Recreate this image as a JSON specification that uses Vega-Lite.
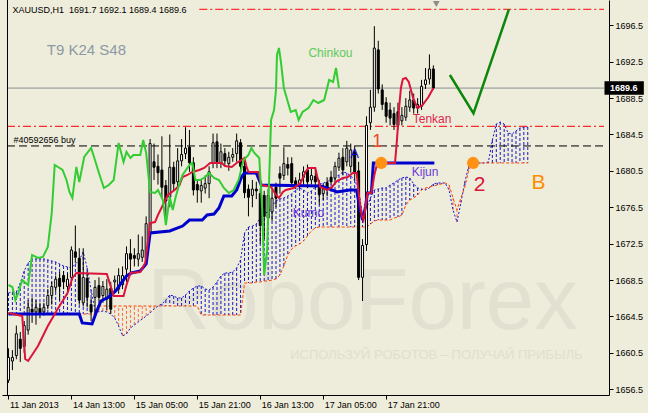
{
"$schema":"https://vega.github.io/schema/vega-lite/v6.json",
"width":607,"height":395,
"autosize":{"type":"none"},
"padding":{"left":2,"top":0,"right":39,"bottom":18},
"background":"#EEECDA",
"view":{"stroke":null},
"config":{"font":"Liberation Sans"},
"datasets":{
"candles":[
{"i":0,"o":1657.5,"h":1661.0,"l":1657.2,"c":1660.0},
{"i":1,"o":1659.6,"h":1660.8,"l":1658.6,"c":1660.0},
{"i":2,"o":1660.2,"h":1663.5,"l":1659.8,"c":1662.6},
{"i":3,"o":1662.0,"h":1662.8,"l":1659.5,"c":1661.0},
{"i":4,"o":1661.2,"h":1664.0,"l":1660.5,"c":1663.5},
{"i":5,"o":1663.0,"h":1666.3,"l":1662.5,"c":1665.5},
{"i":6,"o":1665.3,"h":1666.6,"l":1663.8,"c":1665.0},
{"i":7,"o":1665.0,"h":1666.3,"l":1663.6,"c":1665.5},
{"i":8,"o":1665.4,"h":1666.0,"l":1664.3,"c":1664.9},
{"i":9,"o":1665.0,"h":1666.0,"l":1664.6,"c":1665.5},
{"i":10,"o":1665.7,"h":1667.5,"l":1665.3,"c":1666.8},
{"i":11,"o":1666.8,"h":1668.3,"l":1665.8,"c":1667.8},
{"i":12,"o":1667.7,"h":1669.0,"l":1667.2,"c":1668.6},
{"i":13,"o":1668.7,"h":1669.4,"l":1666.3,"c":1667.8},
{"i":14,"o":1669.0,"h":1669.5,"l":1667.5,"c":1668.3},
{"i":15,"o":1667.8,"h":1669.2,"l":1667.3,"c":1668.6},
{"i":16,"o":1668.8,"h":1672.2,"l":1668.3,"c":1671.8},
{"i":17,"o":1671.6,"h":1674.5,"l":1670.4,"c":1671.0},
{"i":18,"o":1670.9,"h":1672.0,"l":1665.8,"c":1666.3},
{"i":19,"o":1666.0,"h":1672.0,"l":1665.6,"c":1668.8},
{"i":20,"o":1668.7,"h":1669.5,"l":1665.5,"c":1666.6},
{"i":21,"o":1665.8,"h":1666.5,"l":1664.0,"c":1665.0},
{"i":22,"o":1666.6,"h":1668.5,"l":1664.8,"c":1667.7},
{"i":23,"o":1667.9,"h":1668.8,"l":1666.0,"c":1666.6},
{"i":24,"o":1666.8,"h":1668.4,"l":1666.0,"c":1667.8},
{"i":25,"o":1666.4,"h":1668.6,"l":1665.2,"c":1667.5},
{"i":26,"o":1667.6,"h":1668.3,"l":1664.8,"c":1665.3},
{"i":27,"o":1668.3,"h":1669.0,"l":1667.2,"c":1668.5},
{"i":28,"o":1667.5,"h":1669.8,"l":1667.0,"c":1669.0},
{"i":29,"o":1668.0,"h":1670.0,"l":1667.5,"c":1669.0},
{"i":30,"o":1669.7,"h":1672.2,"l":1668.3,"c":1671.4},
{"i":31,"o":1671.4,"h":1673.0,"l":1669.0,"c":1670.8},
{"i":32,"o":1671.2,"h":1672.0,"l":1670.0,"c":1670.9},
{"i":33,"o":1670.8,"h":1673.5,"l":1670.0,"c":1671.4},
{"i":34,"o":1671.0,"h":1673.3,"l":1670.5,"c":1671.8},
{"i":35,"o":1670.9,"h":1675.5,"l":1670.5,"c":1674.7},
{"i":36,"o":1673.6,"h":1684.0,"l":1673.2,"c":1683.5},
{"i":37,"o":1681.5,"h":1683.5,"l":1679.5,"c":1680.9},
{"i":38,"o":1681.0,"h":1682.3,"l":1679.0,"c":1680.3},
{"i":39,"o":1680.6,"h":1684.3,"l":1677.5,"c":1678.7},
{"i":40,"o":1678.9,"h":1679.5,"l":1675.5,"c":1677.2},
{"i":41,"o":1677.6,"h":1684.5,"l":1676.5,"c":1680.9},
{"i":42,"o":1680.9,"h":1681.5,"l":1678.3,"c":1679.1},
{"i":43,"o":1679.3,"h":1683.0,"l":1678.8,"c":1681.6},
{"i":44,"o":1681.6,"h":1684.0,"l":1681.0,"c":1682.3},
{"i":45,"o":1682.4,"h":1685.3,"l":1681.8,"c":1683.0},
{"i":46,"o":1683.1,"h":1685.0,"l":1680.4,"c":1681.4},
{"i":47,"o":1681.4,"h":1682.0,"l":1677.8,"c":1678.4},
{"i":48,"o":1679.0,"h":1679.6,"l":1677.0,"c":1678.4},
{"i":49,"o":1678.3,"h":1679.6,"l":1677.0,"c":1678.9},
{"i":50,"o":1678.6,"h":1680.0,"l":1678.0,"c":1679.1},
{"i":51,"o":1679.1,"h":1681.0,"l":1677.5,"c":1680.4},
{"i":52,"o":1681.4,"h":1684.6,"l":1680.8,"c":1683.6},
{"i":53,"o":1683.7,"h":1684.6,"l":1680.8,"c":1681.5},
{"i":54,"o":1681.4,"h":1683.5,"l":1680.8,"c":1682.6},
{"i":55,"o":1682.4,"h":1683.0,"l":1681.0,"c":1681.6},
{"i":56,"o":1681.3,"h":1682.6,"l":1680.5,"c":1682.0},
{"i":57,"o":1682.0,"h":1683.0,"l":1681.5,"c":1682.3},
{"i":58,"o":1682.4,"h":1684.6,"l":1681.5,"c":1683.8},
{"i":59,"o":1683.6,"h":1684.0,"l":1680.0,"c":1681.0},
{"i":60,"o":1681.0,"h":1681.8,"l":1677.5,"c":1678.1},
{"i":61,"o":1678.5,"h":1679.0,"l":1675.5,"c":1677.6},
{"i":62,"o":1677.8,"h":1679.5,"l":1676.5,"c":1678.5},
{"i":63,"o":1678.5,"h":1679.3,"l":1677.4,"c":1678.3},
{"i":64,"o":1678.0,"h":1678.6,"l":1672.5,"c":1674.5},
{"i":65,"o":1677.8,"h":1678.3,"l":1673.0,"c":1675.5},
{"i":66,"o":1675.3,"h":1678.5,"l":1674.8,"c":1677.8},
{"i":67,"o":1676.0,"h":1678.5,"l":1675.0,"c":1677.5},
{"i":68,"o":1678.7,"h":1679.2,"l":1676.5,"c":1677.5},
{"i":69,"o":1680.2,"h":1681.0,"l":1678.0,"c":1679.7},
{"i":70,"o":1680.0,"h":1683.1,"l":1679.5,"c":1681.3},
{"i":71,"o":1681.2,"h":1682.0,"l":1680.0,"c":1680.8},
{"i":72,"o":1681.3,"h":1682.0,"l":1679.0,"c":1679.2},
{"i":73,"o":1679.4,"h":1679.8,"l":1678.5,"c":1679.0},
{"i":74,"o":1679.0,"h":1680.3,"l":1678.6,"c":1679.5},
{"i":75,"o":1679.8,"h":1681.0,"l":1679.0,"c":1680.4},
{"i":76,"o":1680.6,"h":1681.2,"l":1678.6,"c":1679.3},
{"i":77,"o":1679.5,"h":1680.8,"l":1679.0,"c":1680.0},
{"i":78,"o":1679.9,"h":1680.8,"l":1678.6,"c":1679.3},
{"i":79,"o":1679.0,"h":1679.5,"l":1676.8,"c":1677.9},
{"i":80,"o":1678.0,"h":1679.0,"l":1677.3,"c":1678.5},
{"i":81,"o":1679.2,"h":1679.8,"l":1677.7,"c":1678.4},
{"i":82,"o":1679.8,"h":1680.5,"l":1679.0,"c":1679.3},
{"i":83,"o":1679.7,"h":1681.5,"l":1679.2,"c":1681.0},
{"i":84,"o":1680.9,"h":1682.5,"l":1680.5,"c":1681.9},
{"i":85,"o":1682.0,"h":1683.0,"l":1680.0,"c":1680.6},
{"i":86,"o":1681.5,"h":1683.8,"l":1681.0,"c":1683.0},
{"i":87,"o":1681.0,"h":1683.5,"l":1680.3,"c":1682.8},
{"i":88,"o":1682.6,"h":1683.3,"l":1679.5,"c":1680.3},
{"i":89,"o":1680.5,"h":1681.5,"l":1668.5,"c":1668.8},
{"i":90,"o":1668.8,"h":1673.0,"l":1666.2,"c":1672.3},
{"i":91,"o":1672.4,"h":1686.5,"l":1671.7,"c":1685.5},
{"i":92,"o":1685.8,"h":1689.4,"l":1685.0,"c":1687.5},
{"i":93,"o":1687.5,"h":1696.4,"l":1687.0,"c":1694.0},
{"i":94,"o":1693.8,"h":1694.8,"l":1689.0,"c":1689.5},
{"i":95,"o":1689.4,"h":1690.0,"l":1687.2,"c":1687.8},
{"i":96,"o":1688.0,"h":1688.6,"l":1685.8,"c":1686.5},
{"i":97,"o":1687.2,"h":1688.0,"l":1685.5,"c":1686.3},
{"i":98,"o":1686.8,"h":1687.5,"l":1685.0,"c":1685.6},
{"i":99,"o":1687.0,"h":1688.0,"l":1685.0,"c":1685.5},
{"i":100,"o":1686.0,"h":1687.5,"l":1685.5,"c":1686.6},
{"i":101,"o":1686.4,"h":1688.5,"l":1686.0,"c":1687.6},
{"i":102,"o":1687.5,"h":1689.3,"l":1687.0,"c":1688.3},
{"i":103,"o":1688.3,"h":1689.0,"l":1686.8,"c":1687.4},
{"i":104,"o":1687.4,"h":1688.5,"l":1686.8,"c":1687.8},
{"i":105,"o":1687.6,"h":1690.5,"l":1687.2,"c":1689.8},
{"i":106,"o":1690.0,"h":1691.8,"l":1689.5,"c":1690.5},
{"i":107,"o":1690.6,"h":1693.3,"l":1690.0,"c":1691.7},
{"i":108,"o":1691.7,"h":1692.1,"l":1689.4,"c":1689.6}
],
"ichi":[
{"i":0,"a":1667.08,"b":1664.77},{"i":1,"a":1667.19,"b":1664.77},{"i":2,"a":1667.19,"b":1664.77},{"i":3,"a":1668.18,"b":1664.77},
{"i":4,"a":1669.5,"b":1664.77},{"i":5,"a":1670.38,"b":1664.77},{"i":6,"a":1670.82,"b":1664.77},{"i":7,"a":1670.82,"b":1664.77},
{"i":8,"a":1670.82,"b":1664.77},{"i":9,"a":1670.82,"b":1664.77},{"i":10,"a":1670.71,"b":1664.77},{"i":11,"a":1670.6,"b":1664.77},
{"i":12,"a":1670.49,"b":1664.77},{"i":13,"a":1670.27,"b":1664.77},{"i":14,"a":1670.05,"b":1664.77},{"i":15,"a":1669.94,"b":1664.77},
{"i":16,"a":1669.83,"b":1664.77},{"i":17,"a":1670.27,"b":1664.77},{"i":18,"a":1670.71,"b":1664.77},{"i":19,"a":1671.59,"b":1664.77},
{"i":20,"a":1669.83,"b":1664.77},{"i":21,"a":1667.41,"b":1664.77},{"i":22,"a":1665.21,"b":1664.77},{"i":23,"a":1664.99,"b":1665.65},
{"i":24,"a":1665.1,"b":1665.65},{"i":25,"a":1664.99,"b":1665.65},{"i":26,"a":1664.77,"b":1665.65},{"i":27,"a":1664.33,"b":1665.65},
{"i":28,"a":1663.46,"b":1665.65},{"i":29,"a":1662.36,"b":1665.65},{"i":30,"a":1662.58,"b":1665.65},{"i":31,"a":1663.24,"b":1665.65},
{"i":32,"a":1663.57,"b":1665.65},{"i":33,"a":1663.9,"b":1665.65},{"i":34,"a":1664.22,"b":1665.65},{"i":35,"a":1664.55,"b":1665.65},
{"i":36,"a":1664.88,"b":1665.65},{"i":37,"a":1665.32,"b":1665.65},{"i":38,"a":1665.65,"b":1665.65},{"i":39,"a":1665.87,"b":1665.65},
{"i":40,"a":1666.31,"b":1665.65},{"i":41,"a":1666.86,"b":1665.65},{"i":42,"a":1666.75,"b":1665.65},{"i":43,"a":1666.53,"b":1665.65},
{"i":44,"a":1666.53,"b":1665.65},{"i":45,"a":1666.86,"b":1665.65},{"i":46,"a":1667.3,"b":1665.65},{"i":47,"a":1667.63,"b":1665.65},
{"i":48,"a":1667.85,"b":1665.65},{"i":49,"a":1667.85,"b":1664.66},{"i":50,"a":1667.52,"b":1664.66},{"i":51,"a":1667.41,"b":1664.66},
{"i":52,"a":1667.74,"b":1664.66},{"i":53,"a":1668.29,"b":1664.66},{"i":54,"a":1668.95,"b":1664.66},{"i":55,"a":1669.28,"b":1664.66},
{"i":56,"a":1669.28,"b":1664.66},{"i":57,"a":1669.39,"b":1664.66},{"i":58,"a":1669.83,"b":1664.66},{"i":59,"a":1670.71,"b":1664.66},
{"i":60,"a":1673.68,"b":1668.18},{"i":61,"a":1674.33,"b":1668.18},{"i":62,"a":1674.44,"b":1668.18},{"i":63,"a":1674.66,"b":1668.29},
{"i":64,"a":1675.32,"b":1668.29},{"i":65,"a":1675.87,"b":1668.4},{"i":66,"a":1675.98,"b":1668.4},{"i":67,"a":1676.64,"b":1668.51},
{"i":68,"a":1677.19,"b":1668.62},{"i":69,"a":1677.41,"b":1669.06},{"i":70,"a":1677.52,"b":1670.05},{"i":71,"a":1677.74,"b":1671.26},
{"i":72,"a":1677.96,"b":1671.92},{"i":73,"a":1678.4,"b":1672.25},{"i":74,"a":1678.62,"b":1672.47},{"i":75,"a":1678.4,"b":1672.8},
{"i":76,"a":1678.07,"b":1673.35},{"i":77,"a":1678.29,"b":1673.9},{"i":78,"a":1678.73,"b":1674.23},{"i":79,"a":1679.06,"b":1674.33},
{"i":80,"a":1679.17,"b":1674.33},{"i":81,"a":1679.28,"b":1674.33},{"i":82,"a":1679.61,"b":1674.33},{"i":83,"a":1679.83,"b":1674.33},
{"i":84,"a":1680.05,"b":1674.33},{"i":85,"a":1680.38,"b":1674.33},{"i":86,"a":1680.27,"b":1674.33},{"i":87,"a":1679.94,"b":1674.33},
{"i":88,"a":1679.5,"b":1674.33},{"i":89,"a":1678.4,"b":1674.33},{"i":90,"a":1675.65,"b":1674.33},{"i":91,"a":1676.42,"b":1674.33},
{"i":92,"a":1677.52,"b":1674.66},{"i":93,"a":1678.4,"b":1674.99},{"i":94,"a":1678.51,"b":1675.1},{"i":95,"a":1678.62,"b":1675.1},
{"i":96,"a":1678.62,"b":1675.1},{"i":97,"a":1678.95,"b":1675.1},{"i":98,"a":1679.17,"b":1675.32},{"i":99,"a":1679.5,"b":1675.43},
{"i":100,"a":1679.72,"b":1675.65},{"i":101,"a":1679.83,"b":1676.75},{"i":102,"a":1679.72,"b":1677.3},{"i":103,"a":1679.06,"b":1677.52},
{"i":104,"a":1678.62,"b":1677.85},{"i":105,"a":1678.51,"b":1678.4},{"i":106,"a":1678.4,"b":1678.62},{"i":107,"a":1678.62,"b":1678.73},
{"i":108,"a":1679.06,"b":1678.84},{"i":109,"a":1679.17,"b":1678.95},{"i":110,"a":1679.17,"b":1679.06},{"i":111,"a":1679.17,"b":1679.17},
{"i":112,"a":1678.4,"b":1678.95},{"i":113,"a":1676.2,"b":1677.52},{"i":114,"a":1674.88,"b":1676.2},{"i":115,"a":1676.97,"b":1677.52},
{"i":116,"a":1679.28,"b":1678.73},{"i":117,"a":1681.04,"b":1680.6},{"i":118,"a":1681.37,"b":1681.37},{"i":119,"a":1681.37,"b":1681.37},
{"i":120,"a":1681.37,"b":1681.37},{"i":121,"a":1681.37,"b":1681.37},{"i":122,"a":1681.48,"b":1681.37},{"i":123,"a":1683.9,"b":1681.37},
{"i":124,"a":1685.65,"b":1681.37},{"i":125,"a":1685.87,"b":1681.37},{"i":126,"a":1685.65,"b":1681.37},{"i":127,"a":1684.66,"b":1681.37},
{"i":128,"a":1684.55,"b":1681.37},{"i":129,"a":1684.88,"b":1681.37},{"i":130,"a":1685.21,"b":1681.37},{"i":131,"a":1685.32,"b":1681.37},
{"i":132,"a":1685.32,"b":1681.37}
],
"tenkan":[
{"i":0,"p":1664.88},{"i":3.5,"p":1664.55},{"i":4.25,"p":1659.83},{"i":5,"p":1659.61},{"i":7.5,"p":1661.26},{"i":10,"p":1663.46},
{"i":12.5,"p":1665.32},{"i":15,"p":1667.08},{"i":16.25,"p":1668.73},{"i":17.25,"p":1669.28},{"i":25,"p":1669.17},{"i":26.75,"p":1666.75},
{"i":29.25,"p":1666.75},{"i":30,"p":1667.96},{"i":31,"p":1669.28},{"i":33.5,"p":1669.39},{"i":34.75,"p":1670.38},{"i":35.5,"p":1672.91},
{"i":36,"p":1674.77},{"i":37.25,"p":1674.88},{"i":38,"p":1675.65},{"i":39.25,"p":1676.75},{"i":40.5,"p":1677.85},{"i":42.25,"p":1678.4},
{"i":43.5,"p":1678.95},{"i":44.25,"p":1679.83},{"i":45.5,"p":1680.05},{"i":46.75,"p":1680.38},{"i":48.5,"p":1680.6},{"i":49.75,"p":1680.82},
{"i":51.25,"p":1681.37},{"i":54.25,"p":1681.37},{"i":55,"p":1681.04},{"i":56.75,"p":1680.93},{"i":58,"p":1681.37},{"i":59.25,"p":1681.7},
{"i":60,"p":1681.92},{"i":60.5,"p":1680.93},{"i":61,"p":1680.38},{"i":63.5,"p":1680.38},{"i":64.25,"p":1678.95},{"i":66.75,"p":1678.73},
{"i":68,"p":1677.85},{"i":68.75,"p":1677.52},{"i":69.75,"p":1678.18},{"i":70.5,"p":1678.4},{"i":72.5,"p":1678.62},{"i":74.25,"p":1679.17},
{"i":75.5,"p":1680.38},{"i":76.25,"p":1680.82},{"i":78,"p":1680.82},{"i":78.5,"p":1679.83},{"i":79.25,"p":1678.73},{"i":81,"p":1678.4},
{"i":82.25,"p":1678.73},{"i":83.5,"p":1679.39},{"i":85,"p":1679.72},{"i":86.25,"p":1679.83},{"i":87.5,"p":1680.27},{"i":88.5,"p":1680.27},
{"i":89,"p":1678.07},{"i":89.75,"p":1675.65},{"i":90.25,"p":1675.1},{"i":90.75,"p":1676.53},{"i":91.25,"p":1678.07},{"i":92.25,"p":1678.07},
{"i":93,"p":1680.05},{"i":93.75,"p":1681.37},{"i":98.25,"p":1681.37},{"i":98.75,"p":1683.9},{"i":99.25,"p":1687.19},{"i":99.75,"p":1689.61},
{"i":100.25,"p":1690.6},{"i":101,"p":1690.71},{"i":101.75,"p":1690.27},{"i":103,"p":1688.29},{"i":104,"p":1687.41},{"i":105.25,"p":1687.74},
{"i":106.75,"p":1688.62},{"i":108,"p":1689.61}
],
"kijun":[
{"i":0,"p":1664.77},{"i":18,"p":1664.77},{"i":18.75,"p":1663.79},{"i":21.25,"p":1663.68},{"i":22.25,"p":1664.88},{"i":23.5,"p":1666.2},
{"i":25.5,"p":1666.64},{"i":27.25,"p":1667.3},{"i":28.5,"p":1668.07},{"i":30,"p":1668.95},{"i":31.25,"p":1669.28},{"i":33.5,"p":1669.5},
{"i":35,"p":1670.27},{"i":36,"p":1673.68},{"i":41,"p":1673.9},{"i":44.25,"p":1674.44},{"i":46,"p":1675.1},{"i":49.25,"p":1675.1},
{"i":50.5,"p":1675.65},{"i":52.25,"p":1675.76},{"i":53.5,"p":1676.42},{"i":54.75,"p":1677.74},{"i":56.75,"p":1677.74},{"i":58,"p":1678.4},
{"i":59.25,"p":1679.83},{"i":60,"p":1680.27},{"i":63,"p":1680.27},{"i":64.25,"p":1678.95},{"i":79.25,"p":1678.84},{"i":81,"p":1678.62},
{"i":83.5,"p":1678.18},{"i":86.75,"p":1678.4},{"i":88.5,"p":1678.4},{"i":89.25,"p":1676.53},{"i":90,"p":1675.1},{"i":90.75,"p":1676.53},
{"i":91.25,"p":1678.07},{"i":92.25,"p":1678.07},{"i":92.75,"p":1681.37},{"i":108.25,"p":1681.37}
],
"chinkou":[
{"i":0,"p":1667.96},{"i":1,"p":1667.74},{"i":1.75,"p":1666.31},{"i":2.5,"p":1667.08},{"i":3.5,"p":1668.51},{"i":5,"p":1667.96},
{"i":6,"p":1671.26},{"i":7.5,"p":1670.93},{"i":8.75,"p":1671.04},{"i":10,"p":1672.14},{"i":11,"p":1675.87},{"i":11.75,"p":1681.15},
{"i":13,"p":1680.82},{"i":13.75,"p":1680.6},{"i":14.75,"p":1679.5},{"i":15.5,"p":1678.18},{"i":16.25,"p":1677.52},{"i":17.25,"p":1680.93},
{"i":18,"p":1679.28},{"i":19.25,"p":1682.03},{"i":21,"p":1683.02},{"i":21.75,"p":1682.03},{"i":23,"p":1680.27},{"i":24.25,"p":1678.62},
{"i":25.5,"p":1678.95},{"i":26.75,"p":1679.5},{"i":28,"p":1683.57},{"i":29.25,"p":1681.48},{"i":30,"p":1682.58},{"i":31,"p":1681.92},
{"i":31.75,"p":1682.25},{"i":33.5,"p":1682.25},{"i":34.25,"p":1683.9},{"i":35,"p":1682.47},{"i":36,"p":1678.18},{"i":37.25,"p":1678.07},
{"i":38,"p":1678.4},{"i":39.25,"p":1677.3},{"i":40,"p":1674.55},{"i":41,"p":1677.63},{"i":41.75,"p":1676.2},{"i":42.5,"p":1677.63},
{"i":43.5,"p":1679.17},{"i":44.25,"p":1680.05},{"i":46,"p":1681.15},{"i":46.75,"p":1681.37},{"i":47.5,"p":1679.5},{"i":48.75,"p":1679.5},
{"i":50,"p":1679.83},{"i":51,"p":1680.27},{"i":52.25,"p":1679.72},{"i":53.5,"p":1679.5},{"i":54.75,"p":1678.62},{"i":56,"p":1678.07},
{"i":57.25,"p":1678.4},{"i":58.5,"p":1679.5},{"i":59.75,"p":1681.7},{"i":61,"p":1682.25},{"i":61.75,"p":1683.02},{"i":62.5,"p":1682.47},
{"i":63.75,"p":1681.92},{"i":64.5,"p":1676.2},{"i":65,"p":1669.06},{"i":65.75,"p":1671.81},{"i":66.25,"p":1679.5},{"i":66.75,"p":1686.09},
{"i":67.5,"p":1687.19},{"i":68,"p":1689.39},{"i":68.25,"p":1693.24},{"i":68.75,"p":1694.01},{"i":69.25,"p":1692.47},{"i":70,"p":1689.61},
{"i":71.75,"p":1686.97},{"i":73,"p":1687.19},{"i":73.75,"p":1686.09},{"i":74.75,"p":1686.97},{"i":76.25,"p":1687.41},{"i":77.5,"p":1688.29},
{"i":78.75,"p":1687.96},{"i":80.25,"p":1688.29},{"i":81.5,"p":1690.49},{"i":82.5,"p":1690.27},{"i":83.25,"p":1691.81},{"i":84,"p":1689.61}
]
},
"encoding":{
"x":{"field":"i","type":"quantitative","scale":{"domain":[-0.375,151.375],"nice":false,"zero":false},
"axis":{"title":null,"values":[0,16,32,48,64,80,96],"labelExpr":"['11 Jan 2013','14 Jan 13:00','15 Jan 05:00','15 Jan 21:00','16 Jan 13:00','17 Jan 05:00','17 Jan 21:00'][round(datum.value/16)]","labelAlign":"left","labelBaseline":"top","labelOffset":1,"labelPadding":1,"tickSize":4,"tickColor":"black","domainColor":"black","labelColor":"black","labelFont":"Liberation Sans","labelFontSize":9,"grid":false,"labelFlush":false,"labelOverlap":false}},
"y":{"field":"p","type":"quantitative","scale":{"domain":[1655.87,1699.28],"nice":false,"zero":false},
"axis":{"title":null,"orient":"right","values":[1656.5,1660.5,1664.5,1668.5,1672.5,1676.5,1680.5,1684.5,1688.5,1692.5,1696.5],"format":".1f","labelAlign":"left","labelBaseline":"middle","labelPadding":2,"tickSize":4,"tickColor":"black","domainColor":"black","labelColor":"black","labelFont":"Liberation Sans","labelFontSize":9,"grid":false,"labelFlush":false,"labelOverlap":false}}
},
"layer":[
{"data":{"values":[{"t":"RoboForex","i":90,"p":1661.2}]},"mark":{"type":"text","align":"center","baseline":"bottom","fontSize":87,"font":"Liberation Sans Narrow, Liberation Sans","color":"#E2E1D1"},"encoding":{"text":{"field":"t"}}},
{"data":{"values":[{"t":"ИСПОЛЬЗУЙ РОБОТОВ – ПОЛУЧАЙ ПРИБЫЛЬ","i":108.75,"p":1660.3}]},"mark":{"type":"text","align":"center","baseline":"middle","fontSize":13,"font":"Liberation Sans","color":"#E0DFCF"},"encoding":{"text":{"field":"t"}}},
{"data":{"name":"ichi"},"mark":{"type":"rule","strokeWidth":1,"strokeDash":[3,2]},"encoding":{"y":{"field":"a","type":"quantitative","scale":{"domain":[1655.87,1699.28],"nice":false,"zero":false},"axis":{"title":null,"orient":"right","values":[1656.5,1660.5,1664.5,1668.5,1672.5,1676.5,1680.5,1684.5,1688.5,1692.5,1696.5],"format":".1f","labelAlign":"left","labelBaseline":"middle","labelPadding":2,"tickSize":4,"tickColor":"black","domainColor":"black","labelColor":"black","labelFont":"Liberation Sans","labelFontSize":9,"grid":false,"labelFlush":false,"labelOverlap":false}},"y2":{"field":"b"},"stroke":{"condition":{"test":"datum.a >= datum.b","value":"#1414D2"},"value":"#FF6B3B"}}},
{"data":{"name":"ichi"},"mark":{"type":"line","strokeWidth":1,"strokeDash":[2,2],"color":"#1414D2"},"encoding":{"y":{"field":"a","type":"quantitative","scale":{"domain":[1655.87,1699.28],"nice":false,"zero":false},"axis":{"title":null,"orient":"right","values":[1656.5,1660.5,1664.5,1668.5,1672.5,1676.5,1680.5,1684.5,1688.5,1692.5,1696.5],"format":".1f","labelAlign":"left","labelBaseline":"middle","labelPadding":2,"tickSize":4,"tickColor":"black","domainColor":"black","labelColor":"black","labelFont":"Liberation Sans","labelFontSize":9,"grid":false,"labelFlush":false,"labelOverlap":false}}}},
{"data":{"name":"ichi"},"mark":{"type":"line","strokeWidth":1,"strokeDash":[3,2],"color":"#FF4500"},"encoding":{"y":{"field":"b","type":"quantitative","scale":{"domain":[1655.87,1699.28],"nice":false,"zero":false},"axis":{"title":null,"orient":"right","values":[1656.5,1660.5,1664.5,1668.5,1672.5,1676.5,1680.5,1684.5,1688.5,1692.5,1696.5],"format":".1f","labelAlign":"left","labelBaseline":"middle","labelPadding":2,"tickSize":4,"tickColor":"black","domainColor":"black","labelColor":"black","labelFont":"Liberation Sans","labelFontSize":9,"grid":false,"labelFlush":false,"labelOverlap":false}}}},
{"data":{"values":[{"i":-0.375,"i2":151.375,"p":1689.6}]},"mark":{"type":"rule","color":"#8A9095","strokeWidth":1},"encoding":{"x2":{"field":"i2"}}},
{"data":{"values":[{"i":-0.375,"i2":151.375,"p":1685.4},{"i":48.5,"i2":151.375,"p":1698.26}]},"mark":{"type":"rule","color":"#FF0000","strokeWidth":1,"strokeDash":[8,3,2,3]},"encoding":{"x2":{"field":"i2"}}},
{"data":{"values":[{"i":-0.375,"i2":151.375,"p":1683.24}]},"mark":{"type":"rule","color":"#000000","strokeWidth":1,"strokeDash":[8,4]},"encoding":{"x2":{"field":"i2"}}},
{"data":{"values":[{"i":-0.25,"p":1655.87,"p2":1699.28}]},"mark":{"type":"rule","color":"#000000","strokeWidth":1},"encoding":{"y2":{"field":"p2"}}},
{"data":{"name":"candles"},"mark":{"type":"rule","color":"black","strokeWidth":1},"encoding":{"y":{"field":"l","type":"quantitative","scale":{"domain":[1655.87,1699.28],"nice":false,"zero":false},"axis":{"title":null,"orient":"right","values":[1656.5,1660.5,1664.5,1668.5,1672.5,1676.5,1680.5,1684.5,1688.5,1692.5,1696.5],"format":".1f","labelAlign":"left","labelBaseline":"middle","labelPadding":2,"tickSize":4,"tickColor":"black","domainColor":"black","labelColor":"black","labelFont":"Liberation Sans","labelFontSize":9,"grid":false,"labelFlush":false,"labelOverlap":false}},"y2":{"field":"h"}}},
{"data":{"name":"candles"},"mark":{"type":"bar","size":2,"stroke":"black","strokeWidth":1},"encoding":{"y":{"field":"o","type":"quantitative","scale":{"domain":[1655.87,1699.28],"nice":false,"zero":false},"axis":{"title":null,"orient":"right","values":[1656.5,1660.5,1664.5,1668.5,1672.5,1676.5,1680.5,1684.5,1688.5,1692.5,1696.5],"format":".1f","labelAlign":"left","labelBaseline":"middle","labelPadding":2,"tickSize":4,"tickColor":"black","domainColor":"black","labelColor":"black","labelFont":"Liberation Sans","labelFontSize":9,"grid":false,"labelFlush":false,"labelOverlap":false}},"y2":{"field":"c"},"fill":{"condition":{"test":"datum.c > datum.o","value":"#FFFFFF"},"value":"#000000"}}},
{"data":{"name":"kijun"},"mark":{"type":"line","color":"#0000CD","strokeWidth":3}},
{"data":{"name":"tenkan"},"mark":{"type":"line","color":"#DC143C","strokeWidth":2}},
{"data":{"name":"chinkou"},"mark":{"type":"line","color":"#32CD32","strokeWidth":2}},
{"data":{"values":[{"i":112.2,"p":1691.04},{"i":118.2,"p":1686.83},{"i":127.2,"p":1698.26}]},"mark":{"type":"line","color":"#0B870B","strokeWidth":2.5}},
{"data":{"values":[{"i":94.75,"p":1681.37},{"i":118.1,"p":1681.37}]},"mark":{"type":"point","filled":true,"size":150,"color":"#FF9215","opacity":1}},
{"data":{"values":[{"i":108.75,"p":1698.84}]},"mark":{"type":"point","shape":"triangle-down","filled":true,"size":45,"color":"#8C8C8C","opacity":1}},
{"data":{"values":[{"t":"XAUUSD,H1\u00a0 1691.7 1692.1 1689.4 1689.6","i":1,"p":1698.13},{"t":"#40592656 buy","i":1.25,"p":1683.9}]},"mark":{"type":"text","align":"left","baseline":"middle","fontSize":9,"font":"Liberation Sans","color":"#000000"},"encoding":{"text":{"field":"t"}}},
{"data":{"values":[{"t":"T9 K24 S48","i":9.75,"p":1693.84}]},"mark":{"type":"text","align":"left","baseline":"middle","fontSize":15,"font":"Liberation Sans","color":"#8C9AA6"},"encoding":{"text":{"field":"t"}}},
{"data":{"values":[{"t":"Chinkou","i":76.25,"p":1693.46}]},"mark":{"type":"text","align":"left","baseline":"middle","fontSize":12,"font":"Liberation Sans","color":"#5CCB5C"},"encoding":{"text":{"field":"t"}}},
{"data":{"values":[{"t":"Tenkan","i":102.75,"p":1686.15}]},"mark":{"type":"text","align":"left","baseline":"middle","fontSize":12,"font":"Liberation Sans","color":"#DC2850"},"encoding":{"text":{"field":"t"}}},
{"data":{"values":[{"t":"Kijun","i":102.5,"p":1680.41},{"t":"Kumo","i":72.25,"p":1675.87}]},"mark":{"type":"text","align":"left","baseline":"middle","fontSize":12,"font":"Liberation Sans","color":"#6A3BD9"},"encoding":{"text":{"field":"t"}}},
{"data":{"values":[{"t":"A","i":88,"p":1682.36}]},"mark":{"type":"text","align":"center","baseline":"middle","fontSize":13,"font":"Liberation Sans","color":"#0000CD"},"encoding":{"text":{"field":"t"}}},
{"data":{"values":[{"t":"1","i":93.75,"p":1683.68}]},"mark":{"type":"text","align":"center","baseline":"middle","fontSize":18,"font":"Liberation Sans","color":"#E8472B"},"encoding":{"text":{"field":"t"}}},
{"data":{"values":[{"t":"2","i":119.75,"p":1678.95}]},"mark":{"type":"text","align":"center","baseline":"middle","fontSize":21,"font":"Liberation Sans","color":"#DC143C"},"encoding":{"text":{"field":"t"}}},
{"data":{"values":[{"t":"B","i":134.75,"p":1679.17}]},"mark":{"type":"text","align":"center","baseline":"middle","fontSize":21,"font":"Liberation Sans","color":"#FF8C00"},"encoding":{"text":{"field":"t"}}},
{"data":{"values":[{"i":151.5,"i2":161.5,"p":1688.88,"p2":1690.34}]},"mark":{"type":"rect","color":"#000000"},"encoding":{"x2":{"field":"i2"},"y2":{"field":"p2"}}},
{"data":{"values":[{"t":"1689.6","i":152.9,"p":1689.6}]},"mark":{"type":"text","align":"left","baseline":"middle","fontSize":9,"fontWeight":"bold","font":"Liberation Sans","color":"#FFFFFF"},"encoding":{"text":{"field":"t"}}}
]
}
